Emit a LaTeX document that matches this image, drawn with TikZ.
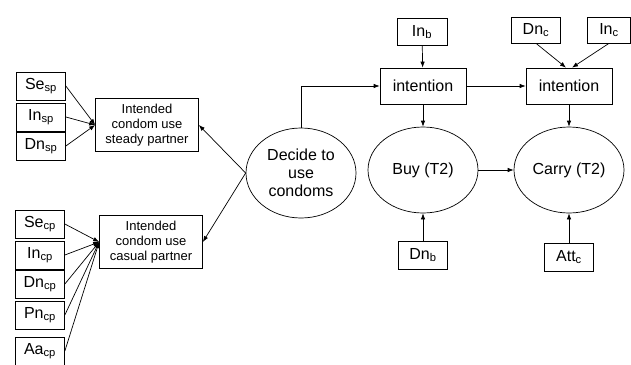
\documentclass[tikz,border=0pt]{standalone}
\usepackage{fontspec}
\setmainfont{Liberation Sans}
\usetikzlibrary{shapes.geometric,arrows.meta}

\begin{document}
\begin{tikzpicture}[x=1pt,y=-1pt,line width=0.7pt,>={Latex[length=6pt,width=4.5pt]},
    var/.style={draw,minimum width=49pt,minimum height=28pt,inner sep=0pt,font=\fontsize{16}{18}\selectfont},
    intended/.style={draw,minimum width=103pt,minimum height=53pt,inner sep=0pt,align=center,font=\fontsize{13}{15}\selectfont},
    intent/.style={draw,minimum width=86pt,minimum height=36pt,inner sep=0pt,font=\fontsize{16}{18}\selectfont},
    act/.style={draw,ellipse,minimum width=110pt,minimum height=86pt,inner sep=0pt,align=center,font=\fontsize{16}{18}\selectfont}]
  \useasboundingbox (0,0) rectangle (631,364);
  % steady partner
  \node[var] (sesp) at (41,86) {Se\textsubscript{sp}};
  \node[var] (insp) at (41,117) {In\textsubscript{sp}};
  \node[var] (dnsp) at (41,146) {Dn\textsubscript{sp}};
  \node[intended] (isp) at (147,125) {Intended\\condom use\\steady partner};
  % casual partner
  \node[var] (secp) at (40,224) {Se\textsubscript{cp}};
  \node[var] (incp) at (40,255) {In\textsubscript{cp}};
  \node[var] (dncp) at (40,284) {Dn\textsubscript{cp}};
  \node[var] (pncp) at (40,315) {Pn\textsubscript{cp}};
  \node[var] (aacp) at (40,351) {Aa\textsubscript{cp}};
  \node[intended] (icp) at (151,242) {Intended\\condom use\\casual partner};
  % behaviour
  \node[act, minimum height=90pt] (decide) at (301,173) {Decide to\\use\\condoms};
  \node[act] (buy) at (423,170) {Buy (T2)};
  \node[act] (carry) at (569,170) {Carry (T2)};
  \node[intent] (intb) at (423,86) {intention};
  \node[intent] (intc) at (569,86) {intention};
  \node[var, minimum width=50pt, minimum height=27pt] (inb) at (422,32) {In\textsubscript{b}};
  \node[var, minimum height=26pt] (dnc) at (536,30) {Dn\textsubscript{c}};
  \node[var, minimum width=43pt, minimum height=26pt] (inc) at (609,30) {In\textsubscript{c}};
  \node[var] (dnb) at (423,255) {Dn\textsubscript{b}};
  \node[var] (attc) at (569,257) {Att\textsubscript{c}};

  \foreach \v in {sesp,insp,dnsp} \draw[->] (\v.east) -- (isp.west);
  \foreach \v in {secp,incp,dncp,pncp,aacp} \draw[->] (\v.east) -- (icp.west);
  \draw[->] (decide.west) -- (isp.east);
  \draw[->] (decide.west) -- (icp.east);
  \draw[->] (decide.north) |- (intb.west);
  \draw[->] (inb) -- (intb);
  \draw[->] (intb) -- (buy);
  \draw[->] (dnb) -- (buy);
  \draw[->] (intb) -- (intc);
  \draw[->] (buy) -- (carry);
  \draw[->] (dnc.south) -- ([xshift=-3pt]intc.north);
  \draw[->] (inc.south) -- ([xshift=3pt]intc.north);
  \draw[->] (intc) -- (carry);
  \draw[->] (attc) -- (carry);
\end{tikzpicture}
\end{document}
